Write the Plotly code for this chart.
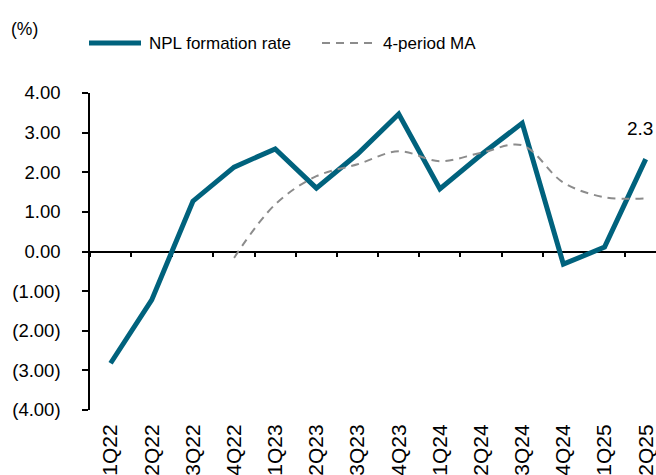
import plotly.graph_objects as go

quarters = ["1Q22", "2Q22", "3Q22", "4Q22", "1Q23", "2Q23", "3Q23", "4Q23",
            "1Q24", "2Q24", "3Q24", "4Q24", "1Q25", "2Q25"]
npl_rate = [-2.82, -1.22, 1.27, 2.13, 2.59, 1.60, 2.46, 3.47,
            1.58, 2.44, 3.24, -0.32, 0.11, 2.33]
ma4 = [None, None, None, -0.16, 1.19, 1.90, 2.20, 2.53,
       2.28, 2.49, 2.68, 1.74, 1.37, 1.34]
y_tickvals = [-4, -3, -2, -1, 0, 1, 2, 3, 4]
y_ticktext = ["(4.00)", "(3.00)", "(2.00)", "(1.00)", "0.00", "1.00", "2.00", "3.00", "4.00"]
series_names = ["NPL formation rate", "4-period MA"]
last_label = "2.3"

TEAL = "#00627D"
GRAY = "#8C8C8C"
FONT = "Liberation Sans, Arial, sans-serif"

W, H = 656, 475
ML, MR, MT, MB = 90, 0, 93, 65
PW, PH = W - ML - MR, H - MT - MB


def px_x(x):
    return (x - ML) / PW


def px_y(y):
    return (H - MB - y) / PH


fig = go.Figure()

fig.add_trace(go.Scatter(
    x=quarters, y=npl_rate, name=series_names[0], mode="lines",
    line=dict(color=TEAL, width=5), xaxis="x2", yaxis="y", showlegend=False,
))
fig.add_trace(go.Scatter(
    x=quarters, y=ma4, name=series_names[1], mode="lines",
    line=dict(color=GRAY, width=2, dash="8px,6px", shape="spline", smoothing=1),
    xaxis="x2", yaxis="y", showlegend=False,
))
# invisible trace to register the zero-line axis
fig.add_trace(go.Scatter(
    x=quarters, y=npl_rate, mode="markers", marker=dict(size=0.1, opacity=0),
    showlegend=False, hoverinfo="skip", xaxis="x", yaxis="y",
))

xr = [-0.5, 13.25]

fig.update_layout(
    width=W, height=H,
    margin=dict(l=ML, r=MR, t=MT, b=MB, autoexpand=False),
    paper_bgcolor="white", plot_bgcolor="white",
    font=dict(family=FONT, color="black", size=17),
    showlegend=False,
    xaxis=dict(
        type="category", categoryorder="array", categoryarray=quarters,
        range=xr, anchor="free", position=0.5, automargin=False,
        showline=True, linecolor="black", linewidth=1.5,
        ticks="outside", tickson="boundaries", ticklen=5, tickwidth=1.5, tickcolor="black",
        showticklabels=False, showgrid=False, zeroline=False, layer="below traces",
    ),
    xaxis2=dict(
        type="category", categoryorder="array", categoryarray=quarters,
        range=xr, overlaying="x", anchor="y", side="bottom", automargin=False,
        showline=False, ticks="outside", ticklen=5, tickcolor="rgba(0,0,0,0)",
        tickangle=-90, tickfont=dict(size=21), showgrid=False, zeroline=False,
    ),
    yaxis=dict(
        range=[-4, 4], tickvals=y_tickvals, ticktext=y_ticktext, automargin=False,
        showline=True, linecolor="black", linewidth=1.5,
        ticks="outside", ticklen=6, tickwidth=1.5, tickcolor="black",
        tickfont=dict(size=18.5), ticklabelstandoff=18,
        showgrid=False, zeroline=False,
    ),
)

# unit label
fig.add_annotation(text="(%)", xref="paper", yref="paper", x=px_x(24), y=px_y(29),
                   xanchor="center", yanchor="middle", showarrow=False,
                   font=dict(size=17.5))

# manual legend (longer symbols like the reference)
leg_y = px_y(43)
fig.add_shape(type="line", xref="paper", yref="paper",
              x0=px_x(89), x1=px_x(141), y0=leg_y, y1=leg_y,
              line=dict(color=TEAL, width=5))
fig.add_annotation(text=series_names[0], xref="paper", yref="paper", x=px_x(147), y=leg_y,
                   xanchor="left", yanchor="middle", showarrow=False, font=dict(size=17))
fig.add_shape(type="line", xref="paper", yref="paper",
              x0=px_x(322), x1=px_x(374), y0=leg_y, y1=leg_y,
              line=dict(color=GRAY, width=2, dash="8px,6px"))
fig.add_annotation(text=series_names[1], xref="paper", yref="paper", x=px_x(381), y=leg_y,
                   xanchor="left", yanchor="middle", showarrow=False, font=dict(size=17))

# last value label
fig.add_annotation(text=last_label, xref="x2", yref="y", x=quarters[-1], y=npl_rate[-1],
                   xanchor="left", yanchor="middle", xshift=-21, yshift=31,
                   showarrow=False, font=dict(size=19))

fig.write_html("out.html", config={"displayModeBar": False},
               post_script="document.body.style.margin='0';document.body.style.overflow='hidden';")
